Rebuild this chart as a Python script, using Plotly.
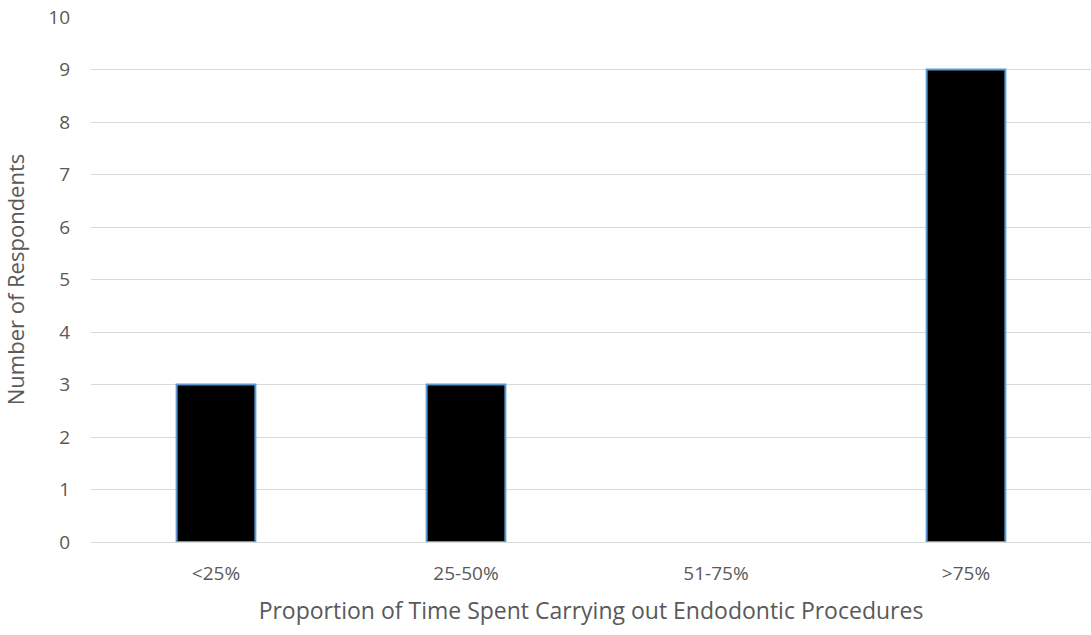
import plotly.graph_objects as go

categories = ["<25%", "25-50%", "51-75%", ">75%"]
respondents = [3, 3, 0, 9]
y_ticks = list(range(0, 11))

# no outline for empty bars so a zero count leaves no stroke on the baseline
outline_widths = [2 if v > 0 else 0 for v in respondents]

fig = go.Figure(
    go.Bar(
        x=categories,
        y=respondents,
        marker=dict(color="#000000", line=dict(color="#5b9bd5", width=outline_widths)),
        width=0.315,
    )
)

fig.update_layout(
    width=1091,
    height=635,
    margin=dict(l=91, r=0, t=17, b=93),
    plot_bgcolor="white",
    paper_bgcolor="white",
    font=dict(family="Open Sans, Liberation Sans, sans-serif", color="#595959", size=19),
    showlegend=False,
)

fig.update_xaxes(
    title=dict(text="Proportion of Time Spent Carrying out Endodontic Procedures",
               font=dict(size=23, color="#595959"), standoff=18),
    tickfont=dict(size=19, color="#595959"),
    ticklabelstandoff=14,
    showgrid=False,
    showline=True,
    linecolor="#d9d9d9",
    linewidth=1,
    ticks="",
)

fig.update_yaxes(
    title=dict(text="Number of Respondents", font=dict(size=22, color="#595959"), standoff=18),
    tickfont=dict(size=19, color="#595959"),
    ticklabelstandoff=20,
    range=[0, 10],
    tickvals=y_ticks,
    showgrid=True,
    gridcolor="#d9d9d9",
    gridwidth=1,
    zeroline=False,
    ticks="",
)

fig.write_html("out.html")
